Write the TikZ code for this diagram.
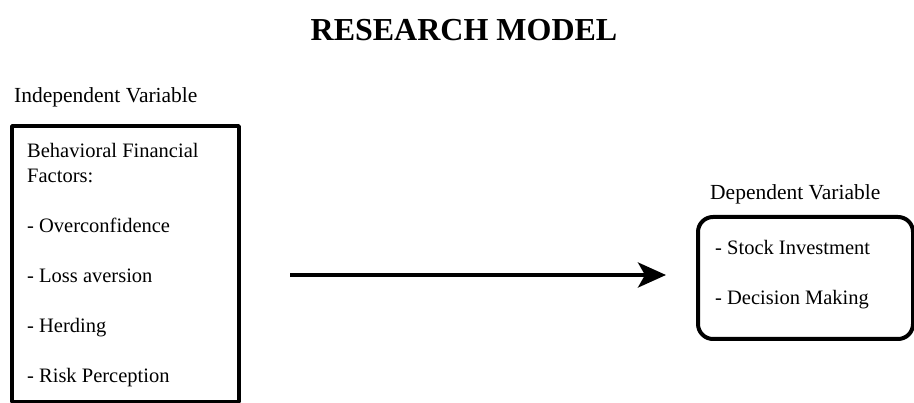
\documentclass[tikz,border=0pt]{standalone}
\usepackage{fontspec}
\setmainfont{Liberation Serif}
\usetikzlibrary{arrows.meta}
\begin{document}
\begin{tikzpicture}[>={Stealth[length=28bp,width=25bp,inset=7bp]},line join=bevel,
  titletext/.style={inner sep=0pt,font=\fontsize{32bp}{36bp}\selectfont\bfseries},
  headtext/.style={inner sep=0pt,anchor=base west,font=\fontsize{21.5bp}{25bp}\selectfont},
  itemtext/.style={inner sep=0pt,anchor=base west,font=\fontsize{20.5bp}{25bp}\selectfont},
  varbox/.style={draw,line width=4bp,outer sep=0pt,inner sep=0pt},
  conn/.style={black,line width=4bp,->},]
%%
\useasboundingbox (0bp,0bp) rectangle (914bp,403bp);
\node (title) at (464bp,373bp) [titletext] {RESEARCH MODEL};
%
\node (indeplabel) at (14bp,300bp) [headtext] {Independent Variable};
  \node (factors) at (125.5bp,139bp) [varbox,minimum width=227bp,minimum height=276bp] {};
  \node (factorhead) at (27bp,245bp) [itemtext] {Behavioral Financial};
  \node (factorhead2) at (27bp,220bp) [itemtext] {Factors:};
  \node (overconf) at (27bp,170bp) [itemtext] {- Overconfidence};
  \node (lossav) at (27bp,120bp) [itemtext] {- Loss aversion};
  \node (herding) at (27bp,70bp) [itemtext] {- Herding};
  \node (riskperc) at (27bp,21bp) [itemtext] {- Risk Perception};
%
\node (deplabel) at (710bp,203bp) [headtext] {Dependent Variable};
  \node (outcome) at (805.5bp,125bp) [varbox,rounded corners=15bp,minimum width=215bp,minimum height=122bp] {};
  \node (stockinv) at (715bp,148bp) [itemtext] {- Stock Investment};
  \node (decision) at (715bp,98bp) [itemtext] {- Decision Making};
%
\coordinate (arrowtail) at (290bp,128bp);
  \draw [conn,shorten >=32bp] (arrowtail) -- (arrowtail -| outcome.west);
%
\end{tikzpicture}
\end{document}
